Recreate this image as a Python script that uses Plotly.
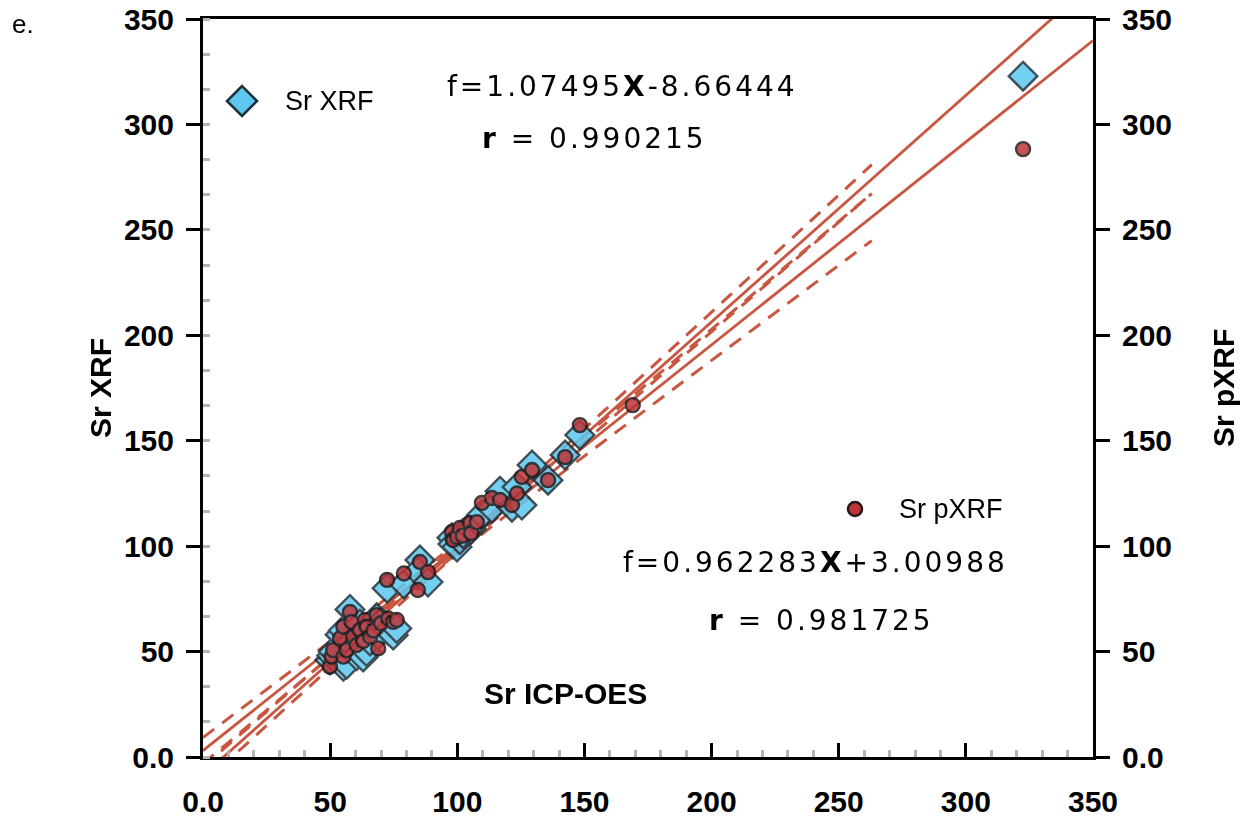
import numpy as np
import plotly.graph_objects as go

# Sr concentrations: ICP-OES reference vs. lab XRF and portable XRF
icp_oes = [49.9, 50.6, 51.2, 53.9, 55.2, 55.2, 56.5, 57.8, 58.4, 59.1, 60.4, 61.7,
           63.0, 63.7, 64.3, 65.7, 67.0, 68.3, 68.9, 70.0, 72.4, 72.9, 74.8, 76.2,
           79.0, 85.3, 84.5, 88.5, 97.9, 98.3, 99.9, 101.0, 102.2, 105.0, 105.5,
           107.7, 109.7, 113.6, 116.8, 121.5, 123.5, 125.4, 129.4, 135.7, 142.4,
           148.2, 169.0, 322.5]
sr_xrf = [46, 48, 50, 58, 43, 60, 44, 70, 55, 52, 48, 63,
          47.4, 60, 50, 55, 62, 66, 58, 64, 80, 60, 57.8, 61,
          82, 93.4, 88, 83, 104, 101, 99.6, 103, 106, 109, 108,
          112, 115, 118, 126, 118.5, 128, 119.5, 138.5, 131.3, 143.2,
          152.7, None, 322.9]
sr_pxrf = [42.8, 47.6, 50.7, 56.3, 47.6, 61.8, 50.7, 68.8, 64, 57, 53.1, 60.2,
           55, 65, 61.8, 57, 60, 67.3, 51.5, 63.4, 84, 65.7, 64.1, 65,
           87, 92.5, 79.2, 87.7, 106.7, 102.9, 104.3, 108.6, 105, 111, 106.2,
           111.4, 120.5, 122.8, 121.9, 119.5, 125, 132.8, 136.1, 131.3, 142.2,
           157.4, 166.9, 288.3]

# regression results shown on the chart
xrf_slope, xrf_icpt, xrf_r = 1.07495, -8.66444, 0.990215
pxrf_slope, pxrf_icpt, pxrf_r = 0.962283, 3.00988, 0.981725

# confidence-band shape: half width = sqrt(a^2 + (b*(x - x_mean))^2)
band_x_mean = 90.0
xrf_band = (2.0, 0.038)
pxrf_band = (2.5, 0.063)
band_x_end = 263.0

tick_vals = [0, 50, 100, 150, 200, 250, 300, 350]
tick_text = ["0.0", "50", "100", "150", "200", "250", "300", "350"]

LINE = "rgb(200,86,64)"
BLUE = "rgb(92,200,240)"
RED = "rgb(190,52,56)"

W, H = 1244, 818
L, R, T, B = 203, 1093, 19, 757


def px(xp):
    return (xp - L) / (R - L)


def py(yp):
    return (B - yp) / (B - T)


fig = go.Figure()

fit_x = np.array([0.0, 350.0])
band_x = np.linspace(0.0, band_x_end, 60)


def add_fit(slope, icpt, band):
    a, b = band
    fig.add_trace(go.Scatter(x=fit_x, y=slope * fit_x + icpt, mode="lines",
                             line=dict(color=LINE, width=2.8), showlegend=False,
                             hoverinfo="skip"))
    hw = np.sqrt(a ** 2 + (b * (band_x - band_x_mean)) ** 2)
    mid = slope * band_x + icpt
    for sgn in (1, -1):
        fig.add_trace(go.Scatter(x=band_x, y=mid + sgn * hw, mode="lines",
                                 line=dict(color=LINE, width=3, dash="14px,10px"),
                                 showlegend=False, hoverinfo="skip"))


add_fit(xrf_slope, xrf_icpt, xrf_band)
add_fit(pxrf_slope, pxrf_icpt, pxrf_band)

fig.add_trace(go.Scatter(
    x=icp_oes, y=sr_xrf, mode="markers", name="Sr XRF", opacity=0.85,
    marker=dict(symbol="diamond", size=22, color=BLUE,
                line=dict(color="rgb(28,48,58)", width=2.4))))
fig.add_trace(go.Scatter(
    x=icp_oes, y=sr_pxrf, mode="markers", name="Sr pXRF", opacity=0.85,
    marker=dict(symbol="circle", size=14, color=RED,
                line=dict(color="rgb(35,25,25)", width=2.4))))
# secondary axis for the pXRF scale
fig.add_trace(go.Scatter(x=[None], y=[None], yaxis="y2", showlegend=False))

tick_font = dict(family="Liberation Sans", size=30, color="black", weight="bold")
axis_common = dict(range=[0, 350], tickmode="array", tickvals=tick_vals,
                   ticktext=tick_text, showgrid=False, zeroline=False,
                   showline=True, linecolor="black", linewidth=3,
                   tickcolor="black", tickwidth=3, ticklen=14,
                   tickfont=tick_font, automargin=False)

fig.update_layout(
    width=W, height=H,
    margin=dict(l=L, r=W - R, t=T, b=H - B, pad=0, autoexpand=False),
    paper_bgcolor="white", plot_bgcolor="white",
    showlegend=False,
    xaxis=dict(**axis_common, ticks="inside", mirror=True, ticklabelstandoff=16,
               minor=dict(ticks="inside", dtick=10, ticklen=7, tickwidth=3,
                          tickcolor="#b4b4b4")),
    yaxis=dict(**axis_common, ticks="outside", ticklabelstandoff=6,
               minor=dict(ticks="inside", dtick=50 / 3, ticklen=7, tickwidth=3,
                          tickcolor="#b4b4b4")),
    yaxis2=dict(**axis_common, ticks="outside", ticklabelstandoff=6,
                overlaying="y", side="right", anchor="x"),
)

eq_font = dict(family="DejaVu Sans", size=28, color="black")
lab_font = dict(family="Liberation Sans", size=27, color="black")
bold_font = dict(family="Liberation Sans", size=30, color="black", weight="bold")
sp = '<span style="letter-spacing:3px">{}</span>'


def note(text, xp, yp, font, xanchor="center", angle=0):
    fig.add_annotation(text=text, x=px(xp), y=py(yp), xref="paper", yref="paper",
                       xanchor=xanchor, yanchor="middle", showarrow=False,
                       font=font, textangle=angle)


note(sp.format(f"f={xrf_slope}<b>X</b>-{abs(xrf_icpt)}"), 622, 87, eq_font)
note(sp.format(f"<b>r</b> = {xrf_r}"), 594, 138, eq_font)
note(sp.format(f"f={pxrf_slope}<b>X</b>+{pxrf_icpt}"), 815, 562, eq_font)
note(sp.format(f"<b>r</b> = {pxrf_r}"), 821, 620, eq_font)

note("Sr XRF", 283, 101, lab_font, xanchor="left")
note("Sr pXRF", 897, 509, lab_font, xanchor="left")
note("Sr ICP-OES", 565, 693, bold_font)
note("Sr XRF", 100, 388, bold_font, angle=-90)
note("Sr pXRF", 1223, 388, bold_font, angle=-90)
note("e.", 10, 24, dict(family="Liberation Sans", size=26, color="black"),
     xanchor="left")

# legend key symbols
fig.add_shape(type="path", xref="paper", yref="paper", xsizemode="pixel",
              ysizemode="pixel", xanchor=px(242), yanchor=py(101),
              path="M -15 0 L 0 -15 L 15 0 L 0 15 Z",
              fillcolor=BLUE, line=dict(color="rgb(28,48,58)", width=2.5))
fig.add_shape(type="circle", xref="paper", yref="paper", xsizemode="pixel",
              ysizemode="pixel", xanchor=px(855), yanchor=py(509),
              x0=-7, x1=7, y0=-7, y1=7,
              fillcolor=RED, line=dict(color="rgb(35,25,25)", width=2.5))

fig.write_html("out.html")
